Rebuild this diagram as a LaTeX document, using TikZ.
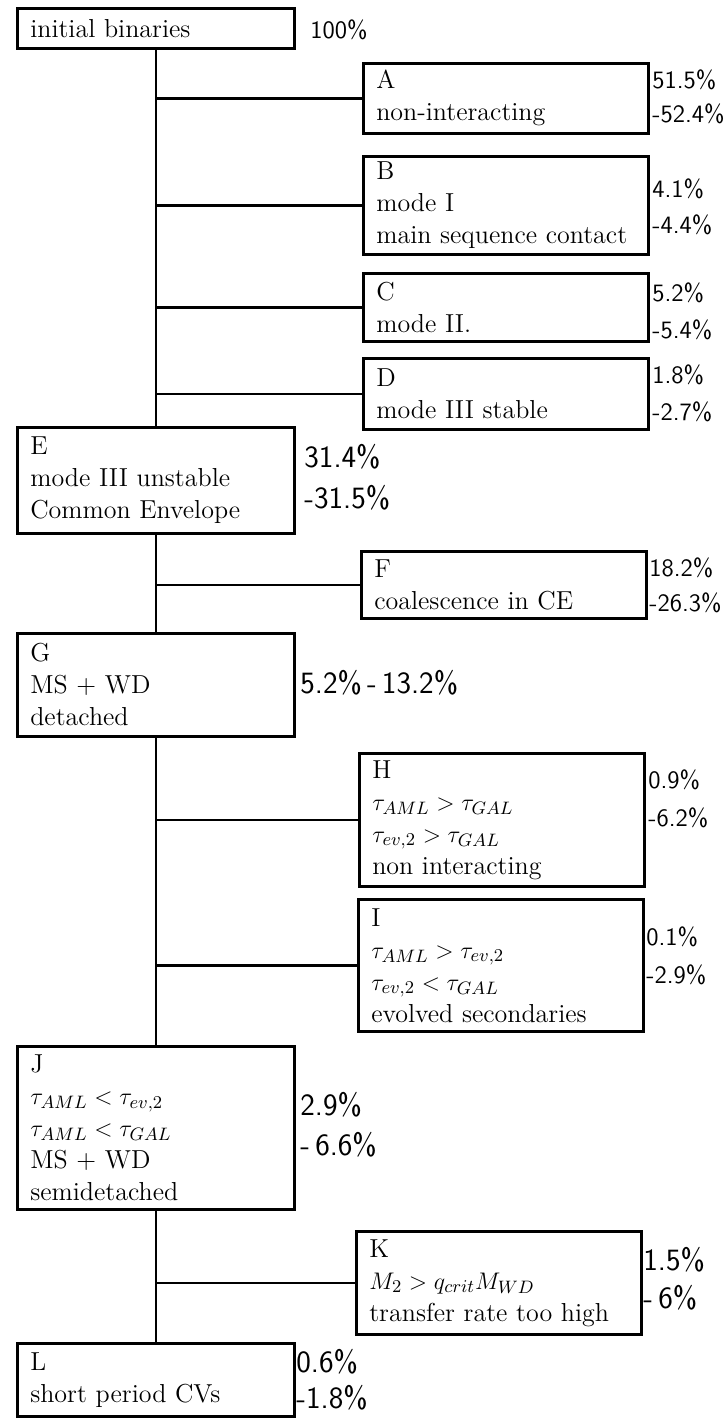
\documentclass[tikz,border=0pt]{standalone}
\usepackage{amsmath}
\usepackage{tikz}

\tikzset{
  leftbox/.style={draw, line width=1.3pt, anchor=north west, align=left,
    text width=125.5pt, inner xsep=6.5pt, inner ysep=2pt,
    font=\fontsize{13}{16}\selectfont},
  rightbox/.style={leftbox, text width=129.5pt},
  pct/.style={anchor=west, inner sep=0pt, font=\sffamily\fontsize{12.5}{15}\selectfont},
  bigpct/.style={pct, font=\sffamily\fontsize{15.5}{18}\selectfont},
  link/.style={line width=1.3pt}
}

\begin{document}
\begin{tikzpicture}[x=0.5pt, y=-0.5pt]
        \useasboundingbox (0,0) rectangle (726,1419);

        % Main path (left column)
        \node[leftbox, minimum height=20pt] (init) at (16,7) {initial binaries};
        \node[leftbox, minimum height=53pt] (E) at (16,426) {E\\mode III unstable\\Common Envelope};
        \node[leftbox, minimum height=51.5pt] (G) at (16,632) {G\\MS + WD\\detached};
        \node[leftbox, minimum height=81.5pt] (J) at (16,1045)
            {J\\$\tau_{AML} < \tau_{ev,2}$\\$\tau_{AML} < \tau_{GAL}$\\MS + WD\\semidetached};
        \node[leftbox, minimum height=36.5pt] (L) at (16,1342) {L\\short period CVs};

        % Side branches (right column)
        \node[rightbox, minimum height=35pt] (A) at (362,62) {A\\non-interacting};
        \node[rightbox, minimum height=49pt] (B) at (362,155) {B\\mode I\\main sequence contact};
        \node[rightbox, minimum height=34pt] (C) at (362,272) {C\\mode II.};
        \node[rightbox, minimum height=35.5pt] (D) at (362,357) {D\\mode III stable};
        \node[rightbox, minimum height=33.5pt] (F) at (360,550) {F\\coalescence in CE};
        \node[rightbox, minimum height=66.5pt] (H) at (358,752)
            {H\\$\tau_{AML} > \tau_{GAL}$\\$\tau_{ev,2} > \tau_{GAL}$\\non interacting};
        \node[rightbox, minimum height=66pt] (I) at (357,898)
            {I\\$\tau_{AML} > \tau_{ev,2}$\\$\tau_{ev,2} < \tau_{GAL}$\\evolved secondaries};
        \node[rightbox, minimum height=51.5pt] (K) at (355,1230)
            {K\\$M_2 > q_{crit}M_{WD}$\\transfer rate too high};

        % Trunk
        \draw[link] (init.south) -- (E.north);
        \draw[link] (E.south) -- (G.north);
        \draw[link] (G.south) -- (J.north);
        \draw[link] (J.south) -- (L.north);

        % Branches off the trunk
        \draw[link] (init.south |- A.west) -- (A.west);
        \draw[link] (init.south |- B.west) -- (B.west);
        \draw[link] (init.south |- C.west) -- (C.west);
        \draw[link] (init.south |- D.west) -- (D.west);
        \draw[link] (E.south |- F.west) -- (F.west);
        \draw[link] (G.south |- H.west) -- (H.west);
        \draw[link] (G.south |- I.west) -- (I.west);
        \draw[link] (J.south |- K.west) -- (K.west);

        % Fractions
        \node[pct] (pinit) at (310,30) {100\%};
        \node[pct] (pA1) at (652,80) {51.5\%};
        \node[pct] (pA2) at (652,114) {-52.4\%};
        \node[pct] (pB1) at (652,189) {4.1\%};
        \node[pct] (pB2) at (652,225) {-4.4\%};
        \node[pct] (pC1) at (652,293) {5.2\%};
        \node[pct] (pC2) at (652,330) {-5.4\%};
        \node[pct] (pD1) at (652,375) {1.8\%};
        \node[pct] (pD2) at (652,412) {-2.7\%};
        \node[bigpct] (pE1) at (304,457) {31.4\%};
        \node[bigpct] (pE2) at (304,498) {-31.5\%};
        \node[pct] (pF1) at (649,568) {18.2\%};
        \node[pct] (pF2) at (649,603) {-26.3\%};
        \node[bigpct] (pG) at (300,683) {5.2\%\,-\,13.2\%};
        \node[pct] (pH1) at (648,780) {0.9\%};
        \node[pct] (pH2) at (648,818) {-6.2\%};
        \node[pct] (pI1) at (646,937) {0.1\%};
        \node[pct] (pI2) at (646,975) {-2.9\%};
        \node[bigpct] (pJ1) at (300,1105) {2.9\%};
        \node[bigpct] (pJ2) at (300,1145) {-\,6.6\%};
        \node[bigpct] (pK1) at (643,1260) {1.5\%};
        \node[bigpct] (pK2) at (643,1298) {-\,6\%};
        \node[bigpct] (pL1) at (296,1362) {0.6\%};
        \node[bigpct] (pL2) at (296,1398) {-1.8\%};
\end{tikzpicture}
\end{document}
